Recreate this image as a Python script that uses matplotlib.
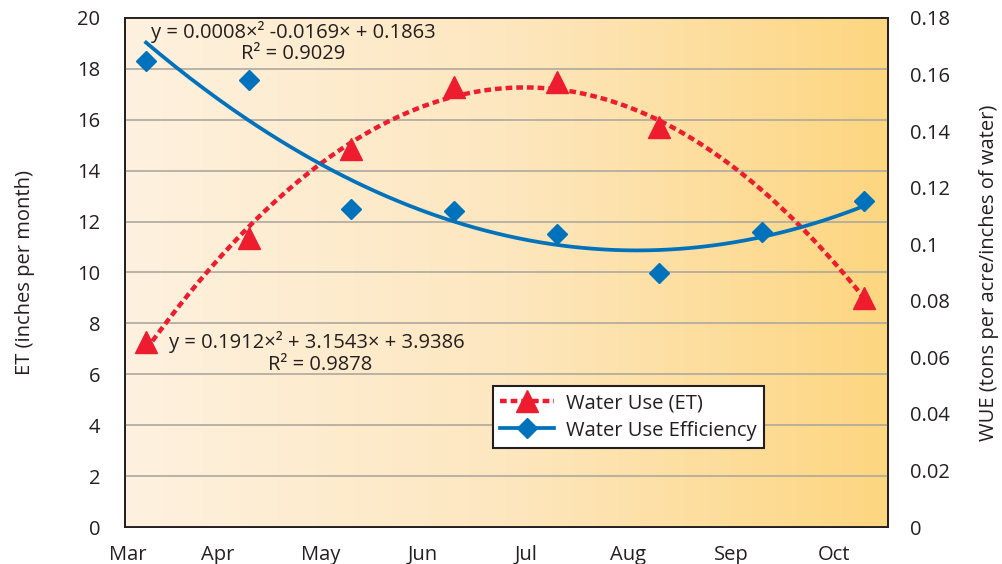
import matplotlib.pyplot as plt
import matplotlib.colors as mcolors
from matplotlib.lines import Line2D
import numpy as np

plt.rcParams['font.family'] = ['Open Sans', 'DejaVu Sans']

# Data
months = ['Mar', 'Apr', 'May', 'Jun', 'Jul', 'Aug', 'Sep', 'Oct']
et_months = [0, 1, 2, 3, 4, 5, 7]          # no September value for ET
et_values = [7.27, 11.36, 14.84, 17.28, 17.5, 15.7, 8.99]
wue_months = [0, 1, 2, 3, 4, 5, 6, 7]
wue_values = [0.1648, 0.158, 0.1126, 0.1116, 0.1036, 0.0897, 0.1042, 0.1152]

et_eq = 'y = 0.1912×² + 3.1543× + 3.9386'
et_r2 = 'R² = 0.9878'
wue_eq = 'y = 0.0008×² -0.0169× + 0.1863'
wue_r2 = 'R² = 0.9029'

red = '#ED1C2E'
blue = '#0072BC'
txt = '#231F20'
fs = 14.5

fig = plt.figure(figsize=(10.02, 5.64), dpi=100)
ax = fig.add_axes([0.1248, 0.0656, 0.7614, 0.9025])
ax2 = ax.twinx()

xmin, xmax = -0.205, 7.23
ax.set_xlim(xmin, xmax)
ax.set_ylim(0, 20)
ax2.set_ylim(0, 0.18)

# gradient background
cmap = mcolors.LinearSegmentedColormap.from_list('bg', ['#FEF1DF', '#FDE7BF', '#FDD680'])
grad = np.linspace(0, 1, 256).reshape(1, -1)
ax.imshow(grad, cmap=cmap, aspect='auto', extent=[xmin, xmax, 0, 20], zorder=0)

ax.set_yticks(np.arange(0, 21, 2))
ax2.set_yticks(np.arange(0, 0.181, 0.02))
ax2.set_yticklabels(['0'] + ['%g' % v for v in np.arange(0.02, 0.181, 0.02)])
ax.grid(axis='y', color='#ADA89E', lw=1.2, zorder=1)
ax.set_axisbelow(False)

tick_pos = np.arange(len(months)) - 0.3
tick_pos[0] = -0.18
ax.set_xticks(tick_pos)
ax.set_xticklabels(months)

for a in (ax, ax2):
    a.tick_params(length=0, labelsize=fs, colors=txt)
    for s in a.spines.values():
        s.set_color('#231F20')
        s.set_linewidth(1.3)
ax.tick_params(axis='y', pad=18)
ax.tick_params(axis='x', pad=13)
ax2.tick_params(axis='y', pad=16)

# ET points and quadratic trend
c_et = np.polyfit(et_months, et_values, 2)
xe = np.linspace(min(et_months), max(et_months), 200)
ax.plot(xe, np.polyval(c_et, xe), color=red, lw=3.2, dashes=(1.5, 0.9), zorder=3)
ax.plot(et_months, et_values, linestyle='none', marker='^', ms=15.5,
        color=red, zorder=4)

# WUE points and quadratic trend
c_w = np.polyfit(wue_months, wue_values, 2)
xw = np.linspace(min(wue_months), max(wue_months), 200)
ax2.plot(xw, np.polyval(c_w, xw), color=blue, lw=2.7, zorder=3)
ax2.plot(wue_months, wue_values, linestyle='none', marker='D', ms=10.5,
         color=blue, zorder=4)

# trendline equations
ax.text(0.22, 0.972, wue_eq, transform=ax.transAxes, fontsize=fs, color=txt,
        ha='center', va='center')
ax.text(0.22, 0.93, wue_r2, transform=ax.transAxes, fontsize=fs, color=txt,
        ha='center', va='center')
ax.text(0.252, 0.363, et_eq, transform=ax.transAxes, fontsize=fs, color=txt,
        ha='center', va='center')
ax.text(0.256, 0.318, et_r2, transform=ax.transAxes, fontsize=fs, color=txt,
        ha='center', va='center')

ax.set_ylabel('ET (inches per month)', fontsize=fs, color=txt, labelpad=30)
ax2.set_ylabel('WUE (tons per acre/inches of water)', fontsize=fs, color=txt,
               labelpad=21)

handles = [
    Line2D([], [], color=red, lw=3.2, dashes=(1.5, 0.9), marker='^', ms=15.5),
    Line2D([], [], color=blue, lw=2.7, marker='D', ms=10.5),
]
leg = ax2.legend(handles, ['Water Use (ET)', 'Water Use Efficiency'],
                 loc='lower left', bbox_to_anchor=(0.482, 0.156),
                 borderaxespad=0, fontsize=fs, frameon=True, fancybox=False,
                 handlelength=2.7, labelspacing=0.35, borderpad=0.35,
                 handletextpad=0.6)
leg.get_frame().set_edgecolor('#231F20')
leg.get_frame().set_linewidth(1.5)
leg.get_frame().set_facecolor('white')
leg.get_frame().set_alpha(1)
for t in leg.get_texts():
    t.set_color(txt)

fig.savefig('out.png', dpi=100)
